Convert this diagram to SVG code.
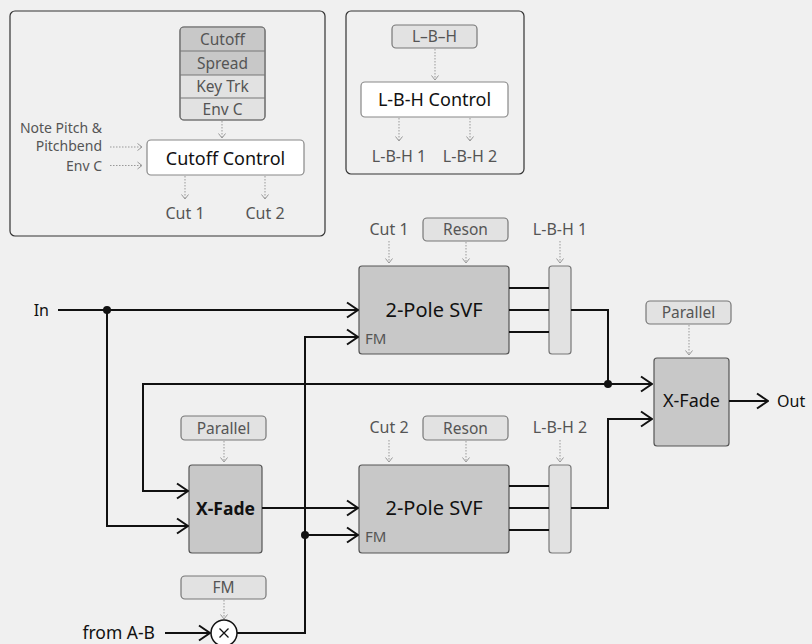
<svg xmlns="http://www.w3.org/2000/svg" width="812" height="644" viewBox="0 0 812 644">
<style>
text{font-family:"Noto Sans","Open Sans","Liberation Sans",sans-serif;}
.g{fill:#555;font-size:15.5px;}
.l{fill:#555;font-size:16px;}
.n{fill:#555;font-size:14px;}
.f{fill:#555;font-size:15px;}
.k{fill:#111;}
.panel{fill:#f0f0f0;stroke:#333;stroke-width:1.2;}
.dark{fill:#c8c8c8;stroke:#555;stroke-width:1.2;}
.light{fill:#e2e2e2;stroke:#777;stroke-width:1.2;}
.white{fill:#fff;stroke:#888;stroke-width:1.2;}
.w{fill:none;stroke:#111;stroke-width:2;}
.d{fill:none;stroke:#999;stroke-width:1;stroke-dasharray:1.5 1.5;}
</style>
<defs>
<marker id="a" viewBox="-1 -9 13 18" refX="11" refY="0" markerWidth="13" markerHeight="18" markerUnits="userSpaceOnUse" orient="auto">
<path d="M0,-7.5 L11,0 L0,7.5" fill="none" stroke="#111" stroke-width="2"/>
</marker>
<marker id="s" viewBox="-6 -5 7 10" refX="0" refY="0" markerWidth="7" markerHeight="10" markerUnits="userSpaceOnUse" orient="auto">
<path d="M-4.5,-3.5 L0,0 L-4.5,3.5" fill="none" stroke="#999" stroke-width="1"/>
</marker>
</defs>
<rect width="812" height="644" fill="#f0f0f0"/>

<g id="cutoff-panel">
<rect class="panel" x="10" y="11" width="315" height="225" rx="5"/>
<g id="stack">
<rect x="180" y="27" width="85" height="93" rx="4" fill="#e2e2e2" stroke="#777" stroke-width="1.2"/>
<path d="M181,28 H264 V75 H181 Z" fill="#c8c8c8"/>
<path d="M180,51 H265 M180,75 H265 M180,98 H265" stroke="#777" stroke-width="1.2"/>
<rect x="180" y="27" width="85" height="93" rx="4" fill="none" stroke="#777" stroke-width="1.2"/>
<text class="g" x="222.5" y="44.5" text-anchor="middle">Cutoff</text>
<text class="g" x="222.5" y="68.5" text-anchor="middle">Spread</text>
<text class="g" x="222.5" y="92" text-anchor="middle">Key Trk</text>
<text class="g" x="222.5" y="115" text-anchor="middle">Env C</text>
</g>
<g id="cutoff-control">
<rect class="white" x="147" y="140" width="157" height="35" rx="4"/>
<text class="k" x="225.5" y="164.5" text-anchor="middle" font-size="18">Cutoff Control</text>
</g>
<text class="n" x="102" y="133" text-anchor="end">Note Pitch &amp;</text>
<text class="n" x="102" y="151" text-anchor="end">Pitchbend</text>
<text class="n" x="102" y="170.5" text-anchor="end">Env C</text>
<text class="l" x="185" y="218.5" text-anchor="middle">Cut 1</text>
<text class="l" x="265" y="218.5" text-anchor="middle">Cut 2</text>
</g>

<g id="lbh-panel">
<rect class="panel" x="346" y="11" width="178" height="163" rx="5"/>
<g id="lbh-src">
<rect class="light" x="392" y="25" width="85" height="23" rx="4"/>
<text class="g" x="434.5" y="42" text-anchor="middle">L–B–H</text>
</g>
<g id="lbh-control">
<rect class="white" x="361" y="82" width="147" height="35" rx="4"/>
<text class="k" x="434.5" y="106" text-anchor="middle" font-size="18">L-B-H Control</text>
</g>
<text class="l" x="399" y="161.5" text-anchor="middle">L-B-H 1</text>
<text class="l" x="470" y="161.5" text-anchor="middle">L-B-H 2</text>
</g>

<g id="labels">
<text class="k" x="49" y="315.5" text-anchor="end" font-size="16">In</text>
<text class="k" x="777" y="406.5" font-size="16">Out</text>
<text class="k" x="155" y="639" text-anchor="end" font-size="17.5">from A-B</text>
<text class="l" x="389" y="234.5" text-anchor="middle">Cut 1</text>
<text class="l" x="560" y="234.5" text-anchor="middle">L-B-H 1</text>
<text class="l" x="389" y="432.5" text-anchor="middle">Cut 2</text>
<text class="l" x="560" y="432.5" text-anchor="middle">L-B-H 2</text>
</g>

<g id="reson1"><rect class="light" x="423" y="218" width="85" height="23" rx="4"/><text class="g" x="465.5" y="235" text-anchor="middle">Reson</text></g>
<g id="reson2"><rect class="light" x="423" y="416" width="85" height="24" rx="4"/><text class="g" x="465.5" y="433.5" text-anchor="middle">Reson</text></g>
<g id="parallel-right"><rect class="light" x="646" y="301" width="85" height="23" rx="4"/><text class="g" x="688.5" y="318" text-anchor="middle">Parallel</text></g>
<g id="parallel-left"><rect class="light" x="181" y="416" width="85" height="24" rx="4"/><text class="g" x="223.5" y="433.5" text-anchor="middle">Parallel</text></g>
<g id="fm-amt"><rect class="light" x="181" y="576" width="85" height="23" rx="4"/><text class="g" x="223.5" y="593" text-anchor="middle">FM</text></g>

<g id="svf1">
<rect class="dark" x="359" y="266" width="150" height="88" rx="3"/>
<text class="k" x="434" y="317" text-anchor="middle" font-size="20">2-Pole SVF</text>
<text class="f" x="365" y="343.5">FM</text>
</g>
<g id="svf2">
<rect class="dark" x="359" y="465" width="150" height="88" rx="3"/>
<text class="k" x="434" y="515" text-anchor="middle" font-size="20">2-Pole SVF</text>
<text class="f" x="365" y="541.5">FM</text>
</g>
<g id="lbh-sel1"><rect class="light" x="549" y="266" width="22" height="88" rx="3"/></g>
<g id="lbh-sel2"><rect class="light" x="549" y="465" width="22" height="88" rx="3"/></g>
<g id="xfade-right">
<rect class="dark" x="654" y="358" width="75" height="88" rx="3"/>
<text class="k" x="691.5" y="407" text-anchor="middle" font-size="18">X-Fade</text>
</g>
<g id="xfade-left">
<rect class="dark" x="189" y="465" width="73" height="88" rx="3"/>
<text class="k" x="225.5" y="514.5" text-anchor="middle" font-size="17.5" font-weight="bold">X-Fade</text>
</g>
<g id="mult">
<circle cx="224" cy="633" r="13" fill="#fff" stroke="#111" stroke-width="1.5"/>
<path d="M219.5,628.5 L228.5,637.5 M228.5,628.5 L219.5,637.5" stroke="#111" stroke-width="1.3"/>
</g>

<g id="connectors">
<path class="w" d="M58,310 H358" marker-end="url(#a)"/>
<path class="w" d="M107,310 V526 H188" marker-end="url(#a)"/>
<path class="w" d="M237,633 H305 V337 H358" marker-end="url(#a)"/>
<path class="w" d="M305,535 H358" marker-end="url(#a)"/>
<path class="w" d="M262,508 H358" marker-end="url(#a)"/>
<path class="w" d="M509,288 H549 M509,310 H549 M509,332 H549"/>
<path class="w" d="M509,486 H549 M509,508 H549 M509,530 H549"/>
<path class="w" d="M571,310 H608 V384 H652" marker-end="url(#a)"/>
<path class="w" d="M608,384 H143 V491 H188" marker-end="url(#a)"/>
<path class="w" d="M571,508 H608 V419 H652" marker-end="url(#a)"/>
<path class="w" d="M729,401 H768" marker-end="url(#a)"/>
<path class="w" d="M165,633 H210" marker-end="url(#a)"/>
<circle cx="107" cy="310" r="4" fill="#111"/>
<circle cx="608" cy="384" r="4" fill="#111"/>
<circle cx="305" cy="535" r="4" fill="#111"/>
<path class="d" d="M222,121 V138" marker-end="url(#s)"/>
<path class="d" d="M110,147 H142" marker-end="url(#s)"/>
<path class="d" d="M110,165.5 H142" marker-end="url(#s)"/>
<path class="d" d="M185,176 V199" marker-end="url(#s)"/>
<path class="d" d="M265,176 V199" marker-end="url(#s)"/>
<path class="d" d="M435,49 V80" marker-end="url(#s)"/>
<path class="d" d="M399,118 V141" marker-end="url(#s)"/>
<path class="d" d="M470,118 V141" marker-end="url(#s)"/>
<path class="d" d="M389,241 V263" marker-end="url(#s)"/>
<path class="d" d="M466,242 V263" marker-end="url(#s)"/>
<path class="d" d="M560,241 V263" marker-end="url(#s)"/>
<path class="d" d="M689,325 V355" marker-end="url(#s)"/>
<path class="d" d="M224,441 V462" marker-end="url(#s)"/>
<path class="d" d="M389,440 V462" marker-end="url(#s)"/>
<path class="d" d="M466,441 V462" marker-end="url(#s)"/>
<path class="d" d="M560,440 V462" marker-end="url(#s)"/>
<path class="d" d="M224,600 V619" marker-end="url(#s)"/>
</g>
</svg>
